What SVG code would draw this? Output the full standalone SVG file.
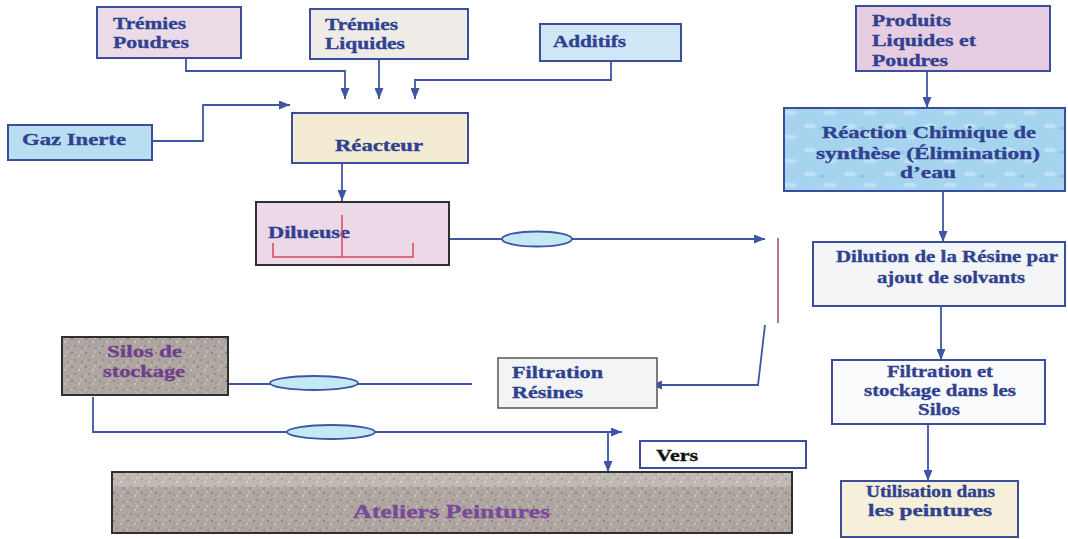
<svg xmlns="http://www.w3.org/2000/svg" width="1068" height="539" viewBox="0 0 1068 539">
<defs>
<style>
.t{font-family:"Liberation Serif","Times New Roman",serif;font-weight:bold;font-size:17.5px;fill:#30418f;stroke:#30418f;stroke-width:0.35px}
.s{font-size:16px}
.p{fill:#6e3f8c;stroke:#6e3f8c}
.b{stroke:#3c4d9c;stroke-width:2}
.k{stroke:#2f2f2f;stroke-width:2}
.c{fill:none;stroke:#3d56a6;stroke-width:1.8}
.e{fill:#c4e8f4;stroke:#3d56a6;stroke-width:1.8}
</style>
<marker id="ah" markerUnits="userSpaceOnUse" markerWidth="11" markerHeight="9" refX="11" refY="4.5" orient="auto"><path d="M0,0 L11,4.5 L0,9 z" fill="#3d56a6"/></marker>
<pattern id="granite" width="14" height="14" patternUnits="userSpaceOnUse">
<rect width="14" height="14" fill="#b0a6a1"/>
<circle cx="2" cy="3" r="1" fill="#857a76"/>
<circle cx="9" cy="6" r="0.9" fill="#d6cfcb"/>
<circle cx="5" cy="10" r="1.1" fill="#928783"/>
<circle cx="12" cy="12" r="0.7" fill="#6c625e"/>
<circle cx="11" cy="2" r="0.9" fill="#cec6c2"/>
<circle cx="6" cy="5" r="0.6" fill="#7a706c"/>
<circle cx="1" cy="12" r="0.8" fill="#d0c8c4"/>
</pattern>
<pattern id="water" width="40" height="24" patternUnits="userSpaceOnUse">
<rect width="40" height="24" fill="#a6d4ee"/>
<ellipse cx="10" cy="6" rx="6" ry="2.5" fill="#bfe2f5"/>
<ellipse cx="30" cy="17" rx="7" ry="2.5" fill="#bce0f4"/>
<ellipse cx="22" cy="8" rx="3" ry="1.5" fill="#8fc6e6"/>
</pattern>
</defs>
<rect width="1068" height="539" fill="#ffffff"/>

<g id="connectors">
<path class="c" d="M186,58 V71 H345 V99" marker-end="url(#ah)"/>
<path class="c" d="M379,59 V99" marker-end="url(#ah)"/>
<path class="c" d="M611,61 V80 H415 V99" marker-end="url(#ah)"/>
<path class="c" d="M152,141 H203 V105 H290" marker-end="url(#ah)"/>
<path class="c" d="M342,163 V201" marker-end="url(#ah)"/>
<path class="c" d="M431,239 H765" marker-end="url(#ah)"/>
<ellipse class="e" cx="537" cy="239" rx="35" ry="7.5"/>
<path d="M778,238 V323" fill="none" stroke="#b0406a" stroke-width="1.5"/>
<path class="c" d="M765,325 L758,385 H651" marker-end="url(#ah)"/>
<path class="c" d="M472,384 H202" marker-end="url(#ah)"/>
<ellipse class="e" cx="314" cy="383" rx="44" ry="7"/>
<path class="c" d="M93,397 V432 H622" marker-end="url(#ah)"/>
<ellipse class="e" cx="331" cy="432" rx="44" ry="7"/>
<path class="c" d="M608,432 V472" marker-end="url(#ah)"/>
<path class="c" d="M927,71 V108" marker-end="url(#ah)"/>
<path class="c" d="M943,191 V242" marker-end="url(#ah)"/>
<path class="c" d="M941,306 V360" marker-end="url(#ah)"/>
<path class="c" d="M928,424 V481" marker-end="url(#ah)"/>
</g>

<g id="tremies-poudres">
<rect class="b" x="97" y="7" width="144" height="51" fill="#eadbe7"/>
<text class="t" x="113" y="29" textLength="73" lengthAdjust="spacingAndGlyphs">Trémies</text>
<text class="t" x="113" y="48" textLength="76" lengthAdjust="spacingAndGlyphs">Poudres</text>
</g>
<g id="tremies-liquides">
<rect class="b" x="310" y="9" width="158" height="50" fill="#efece8"/>
<text class="t" x="325" y="30" textLength="73" lengthAdjust="spacingAndGlyphs">Trémies</text>
<text class="t" x="325" y="49" textLength="80" lengthAdjust="spacingAndGlyphs">Liquides</text>
</g>
<g id="additifs">
<rect class="b" x="540" y="24" width="141" height="37" fill="#cfe7f6"/>
<text class="t" x="553" y="47" textLength="73" lengthAdjust="spacingAndGlyphs">Additifs</text>
</g>
<g id="produits">
<rect class="b" x="856" y="6" width="194" height="65" fill="#e6cde1"/>
<text class="t" x="872" y="26" textLength="79" lengthAdjust="spacingAndGlyphs">Produits</text>
<text class="t" x="872" y="46" textLength="104" lengthAdjust="spacingAndGlyphs">Liquides et</text>
<text class="t" x="872" y="66" textLength="76" lengthAdjust="spacingAndGlyphs">Poudres</text>
</g>
<g id="gaz-inerte">
<rect class="b" x="8" y="125" width="144" height="35" fill="#b9def2"/>
<text class="t" x="22" y="145" textLength="104" lengthAdjust="spacingAndGlyphs">Gaz Inerte</text>
</g>
<g id="reacteur">
<rect class="b" x="292" y="113" width="176" height="50" fill="#f3ebd4"/>
<text class="t" x="335" y="151" textLength="88" lengthAdjust="spacingAndGlyphs">Réacteur</text>
</g>
<g id="dilueuse">
<rect class="k" x="256" y="202" width="193" height="63" fill="#ecd8e7"/>
<text class="t" x="268" y="238" textLength="82" lengthAdjust="spacingAndGlyphs">Dilueuse</text>
<path d="M342,215 V257 M273,243 V257 H413 V243" fill="none" stroke="#d8475e" stroke-width="1.5"/>
</g>
<g id="reaction">
<rect class="b" x="784" y="108" width="281" height="83" fill="url(#water)"/>
<text class="t" x="822" y="138" textLength="214" lengthAdjust="spacingAndGlyphs">Réaction Chimique de</text>
<text class="t" x="816" y="159" textLength="224" lengthAdjust="spacingAndGlyphs">synthèse (Élimination)</text>
<text class="t" x="900" y="178" textLength="56" lengthAdjust="spacingAndGlyphs">d’eau</text>
</g>
<g id="dilution">
<rect class="b" x="813" y="242" width="252" height="64" fill="#f3f5f7"/>
<text class="t" x="836" y="262" textLength="222" lengthAdjust="spacingAndGlyphs">Dilution de la Résine par</text>
<text class="t" x="877" y="283" textLength="148" lengthAdjust="spacingAndGlyphs">ajout de solvants</text>
</g>
<g id="filtration-stockage">
<rect class="b" x="832" y="360" width="213" height="64" fill="#fafbfc"/>
<text class="t s" x="887" y="377" textLength="106" lengthAdjust="spacingAndGlyphs">Filtration et</text>
<text class="t s" x="864" y="396" textLength="152" lengthAdjust="spacingAndGlyphs">stockage dans les</text>
<text class="t s" x="918" y="415" textLength="42" lengthAdjust="spacingAndGlyphs">Silos</text>
</g>
<g id="utilisation">
<rect class="b" x="841" y="481" width="177" height="56" fill="#f6f0da"/>
<text class="t s" x="866" y="497" textLength="129" lengthAdjust="spacingAndGlyphs">Utilisation dans</text>
<text class="t s" x="868" y="516" textLength="124" lengthAdjust="spacingAndGlyphs">les peintures</text>
</g>
<g id="filtration-resines">
<rect x="498" y="358" width="159" height="50" fill="#f2f4f6" stroke="#555" stroke-width="1.5"/>
<text class="t" x="512" y="378" textLength="91" lengthAdjust="spacingAndGlyphs">Filtration</text>
<text class="t" x="512" y="398" textLength="71" lengthAdjust="spacingAndGlyphs">Résines</text>
</g>
<g id="silos">
<rect class="k" x="62" y="337" width="166" height="58" fill="url(#granite)"/>
<text class="t p" x="107" y="357" textLength="75" lengthAdjust="spacingAndGlyphs">Silos de</text>
<text class="t p" x="103" y="377" textLength="82" lengthAdjust="spacingAndGlyphs">stockage</text>
</g>
<g id="vers">
<rect class="b" x="640" y="441" width="166" height="27" fill="#ffffff"/>
<text class="t" x="656" y="461" textLength="42" lengthAdjust="spacingAndGlyphs" style="fill:#111;stroke:#111">Vers</text>
</g>
<g id="ateliers">
<rect class="k" x="112" y="472" width="680" height="61" fill="url(#granite)"/>
<rect x="113" y="473" width="678" height="14" fill="#ffffff" opacity="0.22"/>
<text class="t" x="353" y="518" textLength="197" lengthAdjust="spacingAndGlyphs" style="font-size:19px;fill:#7a4a98;stroke:#7a4a98">Ateliers Peintures</text>
</g>
</svg>
